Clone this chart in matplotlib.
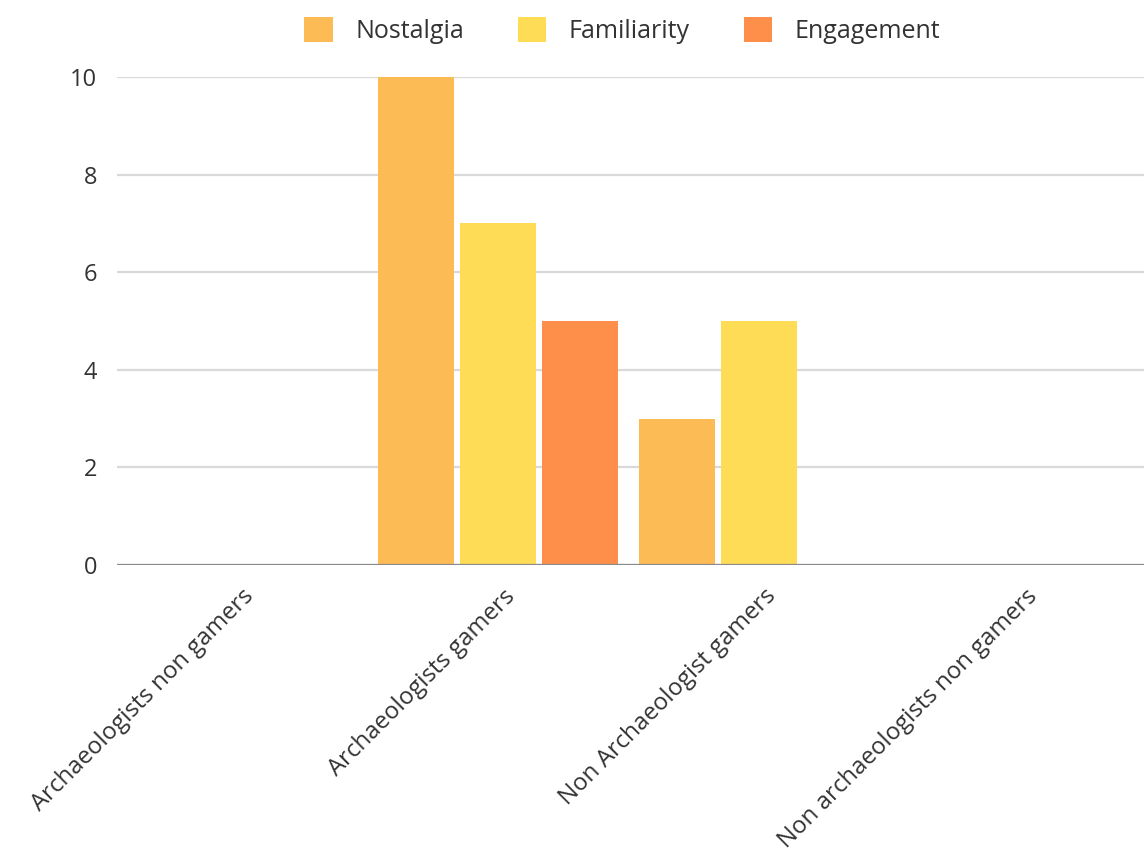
import matplotlib
matplotlib.use("Agg")
import matplotlib.pyplot as plt
import matplotlib.transforms as mtransforms
import numpy as np

plt.rcParams['font.family'] = ['Open Sans', 'DejaVu Sans']

categories = ['Archaeologists non gamers', 'Archaeologists gamers',
              'Non Archaeologist gamers', 'Non archaeologists non gamers']
series = ['Nostalgia', 'Familiarity', 'Engagement']
nostalgia = [0, 10, 3, 0]
familiarity = [0, 7, 5, 0]
engagement = [0, 5, 0, 0]
colors = ['#FDBB55', '#FEDC56', '#FE8F4B']

fig = plt.figure(figsize=(11.44, 8.64), dpi=100)
ax = fig.add_axes([0.102, 0.346, 0.898, 0.565])

x = np.arange(len(categories))
width = 0.291
step = 0.314
for i, (name, vals) in enumerate(zip(series, [nostalgia, familiarity, engagement])):
    ax.bar(x + (i - 1) * step, vals, width, color=colors[i], label=name, zorder=3)

ax.set_xlim(-0.46, 3.475)
ax.set_ylim(0, 10)
ax.set_yticks([0, 2, 4, 6, 8, 10])
ax.yaxis.grid(True, color='#d9d9d9', linewidth=1.6, zorder=0)
ax.set_axisbelow(True)
ax.axhline(0, color='#8a8a8a', linewidth=1.6, zorder=4)
for s in ax.spines.values():
    s.set_visible(False)
ax.tick_params(axis='y', length=0, pad=14, labelsize=17, labelcolor='#333333')
ax.tick_params(axis='x', length=0, pad=20)
ax.set_xticks(x)
ax.set_xticklabels(categories, rotation=45, ha='right', va='center',
                   rotation_mode='anchor', fontsize=17.3, color='#333333')
# nudge the slanted labels so their ends sit just right of the group centre
shift = mtransforms.ScaledTranslation(0.14, 0, fig.dpi_scale_trans)
for lab in ax.get_xticklabels():
    lab.set_transform(lab.get_transform() + shift)

ax.legend(loc='center', bbox_to_anchor=(0.492, 1.095), ncol=3, frameon=False,
          fontsize=18, handlelength=1.15, handleheight=1.15, handletextpad=0.9,
          columnspacing=2.15, labelcolor='#333333')

fig.savefig('out.png', dpi=100)
